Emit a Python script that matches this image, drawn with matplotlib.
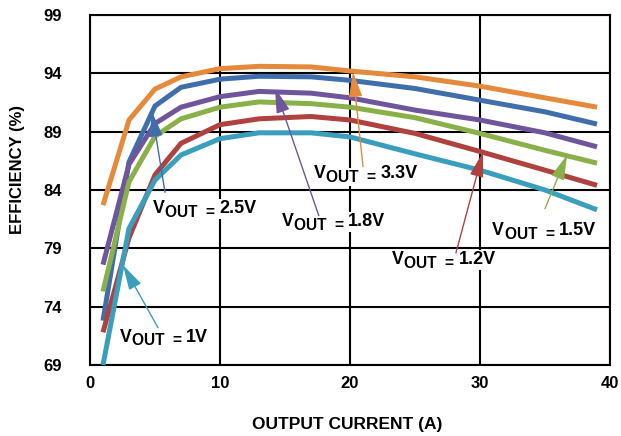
import matplotlib
matplotlib.use("Agg")
import matplotlib.pyplot as plt

plt.rcParams['font.family'] = ['Liberation Sans', 'DejaVu Sans']
plt.rcParams['font.weight'] = 'bold'

# output current (A) sample points
current = [1, 3, 5, 7, 10, 13, 17, 20, 25, 30, 35, 39]

# efficiency (%)
eff_3v3 = [82.7, 90.0, 92.65, 93.7, 94.4, 94.6, 94.55, 94.2, 93.7, 92.9, 91.9, 91.1]
eff_2v5 = [72.8, 86.4, 91.2, 92.8, 93.5, 93.75, 93.7, 93.4, 92.7, 91.7, 90.7, 89.65]
eff_1v8 = [77.6, 86.2, 89.7, 91.1, 92.0, 92.45, 92.3, 91.9, 90.85, 90.0, 88.9, 87.7]
eff_1v5 = [75.3, 84.7, 88.6, 90.1, 91.1, 91.55, 91.4, 91.1, 90.2, 88.85, 87.4, 86.3]
eff_1v2 = [71.8, 79.9, 85.3, 88.0, 89.6, 90.1, 90.3, 90.0, 88.85, 87.3, 85.7, 84.4]
eff_1v0 = [69.0, 80.7, 84.85, 87.0, 88.4, 88.9, 88.9, 88.55, 87.1, 85.7, 84.0, 82.3]

series = [
    ("3.3V", eff_3v3, "#E5893B"),
    ("2.5V", eff_2v5, "#3F6EAA"),
    ("1.8V", eff_1v8, "#6E559C"),
    ("1.5V", eff_1v5, "#8AB04A"),
    ("1.2V", eff_1v2, "#AF413E"),
    ("1V", eff_1v0, "#3A9EBD"),
]

# label position (left, baseline), arrow tail, arrow tip (data units)
labels = {
    "2.5V": ((4.85, 82.0), (5.77, 83.8), (4.77, 90.7)),
    "1.8V": ((14.75, 80.9), (17.6, 81.8), (14.23, 92.74)),
    "3.3V": ((17.25, 85.05), (21.0, 86.0), (20.23, 94.1)),
    "1.2V": ((23.25, 77.62), (28.15, 78.6), (30.23, 87.25)),
    "1.5V": ((30.95, 80.13), (35.0, 82.4), (36.7, 87.0)),
    "1V": ((2.31, 71.0), (5.23, 72.2), (2.54, 77.56)),
}

fig = plt.figure(figsize=(6.21, 4.36), dpi=100)
ax = fig.add_axes([90/621, 1-365/436, 520/621, 350/436])

for name, vals, col in series:
    ax.plot(current, vals, color=col, lw=3.6, solid_capstyle='butt',
            solid_joinstyle='miter', zorder=3, clip_on=False)

box = dict(facecolor='white', edgecolor='none', pad=1.2)
for name, vals, col in series:
    pos, tail, tip = labels[name]
    ax.annotate('', xy=tip, xytext=tail, zorder=4,
                arrowprops=dict(arrowstyle='-|>,head_length=1.1,head_width=0.3',
                                mutation_scale=14, color=col, lw=1,
                                shrinkA=0, shrinkB=0))
    # V, subscript "OUT =", then the value back on the baseline
    t1 = ax.text(pos[0], pos[1], 'V', fontsize=12.8, fontweight='bold',
                 ha='left', va='baseline', zorder=5, bbox=box)
    t2 = ax.annotate('OUT  =', xy=(1, 0), xycoords=t1, xytext=(0.2, -2.0),
                     textcoords='offset points', fontsize=11.2, fontweight='bold',
                     ha='left', va='bottom', zorder=5, bbox=box)
    ax.annotate(name, xy=(1, 0), xycoords=t2, xytext=(3.0, 2.0),
                textcoords='offset points', fontsize=13, fontweight='bold',
                ha='left', va='bottom', zorder=5, bbox=box)

ax.set_xlim(0, 40)
ax.set_ylim(69, 99)
ax.set_xticks([0, 10, 20, 30, 40])
ax.set_yticks([69, 74, 79, 84, 89, 94, 99])
ax.grid(True, color='black', lw=1.5)
ax.set_axisbelow(True)
for sp in ax.spines.values():
    sp.set_linewidth(1.5)
ax.tick_params(length=0, labelsize=12)
ax.tick_params(axis='y', pad=20)
ax.tick_params(axis='x', pad=8)

fig.text(18/621, 1-170/436, 'EFFICIENCY (%)', rotation=90, fontsize=12,
         fontweight='bold', ha='center', va='center')
fig.text(347/621, 1-424/436, 'OUTPUT CURRENT (A)', fontsize=12.5,
         fontweight='bold', ha='center', va='center')

fig.savefig('out.png', dpi=100)
